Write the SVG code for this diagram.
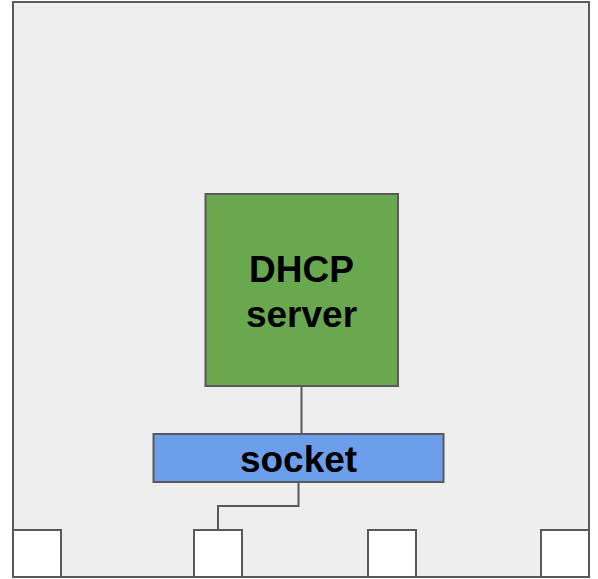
<svg xmlns="http://www.w3.org/2000/svg" width="598" height="579" viewBox="0 0 598 579">
<style>
.b{stroke:#595959;stroke-width:2}
.c{fill:none;stroke:#595959;stroke-width:2}
.t{font-family:"Liberation Sans",Arial,sans-serif;font-weight:bold;font-size:37px;fill:#000;text-anchor:middle}
</style>
<rect width="598" height="579" fill="#ffffff"/>
<g id="host"><rect class="b" x="13" y="2" width="576" height="575" fill="#eeeeee"/></g>
<g id="connectors">
<path class="c" d="M301.5 386V434"/>
<path class="c" d="M298.5 482V506H218V530"/>
</g>
<g id="dhcp"><rect class="b" x="205.5" y="194" width="192.5" height="192" fill="#6aa84f"/>
<text class="t" x="301.5" y="282">DHCP</text><text class="t" x="301.5" y="327">server</text></g>
<g id="socket"><rect class="b" x="153.5" y="434" width="290" height="48" fill="#6d9eeb"/>
<text class="t" x="298.5" y="472">socket</text></g>
<g id="port1"><rect class="b" x="13" y="530" width="48" height="47" fill="#ffffff"/></g>
<g id="port2"><rect class="b" x="194" y="530" width="48" height="47" fill="#ffffff"/></g>
<g id="port3"><rect class="b" x="368" y="530" width="48" height="47" fill="#ffffff"/></g>
<g id="port4"><rect class="b" x="541" y="530" width="48" height="47" fill="#ffffff"/></g>
</svg>
